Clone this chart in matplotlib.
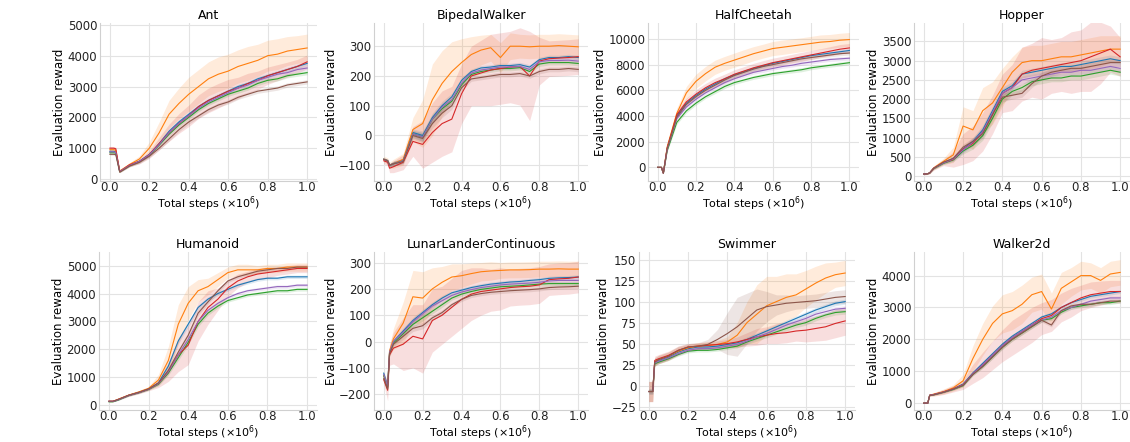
import matplotlib
matplotlib.use('Agg')
import matplotlib.pyplot as plt
from matplotlib.ticker import MultipleLocator, FormatStrFormatter
import numpy as np

# shared x grid (millions of steps)
steps = [0.0, 0.02, 0.03, 0.05, 0.1, 0.15, 0.2, 0.25, 0.3, 0.35, 0.4, 0.45,
         0.5, 0.55, 0.6, 0.65, 0.7, 0.75, 0.8, 0.85, 0.9, 0.95, 1.0]

colors = {'blue': '#1f77b4', 'orange': '#ff7f0e', 'green': '#2ca02c',
          'red': '#d62728', 'purple': '#9467bd', 'brown': '#8c564b'}

# ---- Ant ----
ant_mean = {
    'blue':   [900, 900, 880, 250, 450, 580, 800, 1150, 1550, 1850, 2100, 2350, 2550, 2700, 2850, 3000, 3100, 3250, 3350, 3450, 3550, 3650, 3750],
    'orange': [950, 950, 930, 260, 470, 650, 1000, 1500, 2100, 2450, 2750, 3000, 3250, 3400, 3500, 3650, 3750, 3850, 4000, 4050, 4150, 4200, 4250],
    'green':  [850, 850, 840, 230, 430, 560, 770, 1100, 1450, 1750, 2000, 2250, 2450, 2600, 2750, 2850, 2950, 3100, 3200, 3250, 3350, 3400, 3450],
    'red':    [1000, 1000, 980, 240, 460, 570, 790, 1150, 1500, 1800, 2050, 2350, 2550, 2700, 2850, 2950, 3100, 3200, 3350, 3450, 3550, 3650, 3800],
    'purple': [880, 880, 860, 240, 440, 570, 780, 1120, 1500, 1800, 2050, 2300, 2500, 2650, 2800, 2950, 3050, 3200, 3300, 3400, 3450, 3550, 3600],
    'brown':  [800, 800, 790, 220, 420, 540, 740, 1000, 1300, 1600, 1850, 2050, 2250, 2400, 2500, 2650, 2750, 2850, 2900, 2950, 3050, 3100, 3150],
}
ant_band = {
    'orange': [50, 50, 50, 30, 60, 100, 200, 350, 450, 500, 550, 550, 550, 560, 550, 540, 550, 520, 500, 500, 470, 450, 450],
    'red':    [50, 50, 50, 30, 60, 80, 120, 200, 280, 320, 350, 380, 400, 400, 380, 350, 330, 300, 280, 260, 240, 230, 220],
    'rest':   [30, 30, 30, 20, 30, 40, 50, 60, 70, 70, 70, 70, 70, 70, 70, 70, 70, 70, 70, 70, 70, 70, 70],
}

# ---- BipedalWalker ----
biped_mean = {
    'blue':   [-80, -85, -100, -95, -85, 10, 0, 60, 100, 130, 185, 215, 227, 230, 235, 235, 238, 230, 255, 262, 262, 265, 262],
    'orange': [-80, -85, -100, -95, -80, 20, 40, 120, 175, 215, 245, 272, 287, 295, 262, 300, 300, 298, 300, 300, 302, 300, 298],
    'green':  [-80, -85, -100, -95, -85, 5, -5, 55, 90, 115, 170, 205, 215, 220, 225, 225, 228, 215, 240, 245, 245, 245, 242],
    'red':    [-85, -90, -110, -105, -90, -20, -30, 10, 40, 55, 140, 200, 210, 220, 225, 230, 232, 200, 250, 258, 260, 262, 265],
    'purple': [-80, -85, -100, -95, -85, 5, -5, 55, 95, 120, 175, 210, 220, 225, 230, 230, 232, 222, 248, 252, 252, 253, 250],
    'brown':  [-80, -85, -100, -95, -88, 0, -10, 40, 75, 100, 160, 190, 195, 200, 205, 205, 208, 200, 215, 222, 222, 225, 222],
}
biped_band = {
    'orange': [10, 10, 10, 15, 20, 40, 80, 120, 110, 100, 80, 60, 50, 45, 50, 45, 40, 40, 40, 40, 40, 40, 40],
    'red':    [10, 10, 15, 20, 25, 50, 80, 100, 110, 110, 100, 100, 110, 120, 120, 120, 130, 150, 80, 60, 60, 60, 60],
    'rest':   [5, 5, 5, 8, 8, 12, 15, 15, 15, 12, 10, 8, 8, 8, 8, 8, 8, 8, 8, 8, 8, 8, 8],
}

# ---- HalfCheetah ----
cheetah_mean = {
    'blue':   [0, 0, -450, 1500, 4000, 5000, 5600, 6100, 6500, 6900, 7200, 7450, 7700, 7900, 8100, 8250, 8400, 8550, 8700, 8800, 8900, 9000, 9100],
    'orange': [0, 0, -450, 1600, 4200, 5800, 6700, 7300, 7800, 8100, 8350, 8600, 8850, 9050, 9250, 9350, 9450, 9550, 9650, 9750, 9800, 9900, 9950],
    'green':  [0, 0, -450, 1300, 3500, 4400, 5000, 5500, 5900, 6300, 6600, 6800, 7000, 7150, 7300, 7400, 7500, 7600, 7750, 7850, 7950, 8050, 8150],
    'red':    [0, 0, -450, 1500, 4100, 5100, 5700, 6200, 6600, 6900, 7250, 7500, 7750, 7950, 8150, 8300, 8450, 8600, 8750, 8900, 9050, 9200, 9300],
    'purple': [0, 0, -450, 1400, 3800, 4700, 5300, 5800, 6200, 6600, 6900, 7150, 7400, 7550, 7700, 7850, 7950, 8100, 8200, 8300, 8400, 8450, 8500],
    'brown':  [0, 0, -450, 1450, 3900, 4900, 5500, 6000, 6400, 6800, 7150, 7400, 7650, 7850, 8000, 8150, 8300, 8450, 8550, 8650, 8750, 8850, 8900],
}
cheetah_band = {
    'orange': [20, 20, 50, 200, 400, 500, 550, 560, 550, 540, 550, 560, 550, 540, 550, 560, 550, 540, 550, 560, 550, 540, 550],
    'red':    [20, 20, 50, 200, 300, 300, 350, 340, 350, 360, 350, 340, 350, 360, 350, 340, 350, 360, 350, 340, 350, 360, 350],
    'rest':   [10, 10, 30, 100, 150, 150, 150, 140, 150, 160, 150, 140, 150, 160, 150, 140, 150, 160, 150, 140, 150, 160, 150],
}

# ---- Hopper ----
hopper_mean = {
    'blue':   [50, 60, 80, 200, 350, 450, 700, 900, 1200, 1700, 2200, 2350, 2650, 2700, 2750, 2800, 2850, 2850, 2900, 2950, 3000, 3050, 3000],
    'orange': [50, 60, 80, 210, 380, 550, 1300, 1200, 1700, 1900, 2300, 2700, 2950, 3000, 3000, 3050, 3100, 3100, 3150, 3200, 3250, 3300, 3300],
    'green':  [50, 60, 80, 190, 330, 420, 650, 800, 1050, 1500, 2000, 2200, 2300, 2450, 2500, 2550, 2550, 2600, 2600, 2650, 2700, 2750, 2700],
    'red':    [50, 60, 80, 200, 350, 430, 700, 850, 1150, 1600, 2150, 2300, 2650, 2750, 2800, 2850, 2900, 2950, 3000, 3100, 3200, 3300, 3100],
    'purple': [50, 60, 80, 200, 340, 440, 680, 880, 1150, 1650, 2150, 2300, 2500, 2550, 2600, 2650, 2700, 2700, 2750, 2750, 2800, 2850, 2800],
    'brown':  [50, 60, 80, 200, 360, 460, 750, 900, 1100, 1600, 2050, 2100, 2150, 2400, 2600, 2700, 2750, 2800, 2800, 2850, 2900, 2950, 2950],
}
hopper_band = {
    'orange': [20, 20, 20, 50, 80, 200, 500, 500, 600, 550, 500, 400, 400, 400, 400, 400, 400, 400, 400, 400, 400, 350, 350],
    'red':    [20, 20, 20, 50, 80, 200, 400, 450, 500, 500, 500, 600, 700, 700, 800, 700, 700, 800, 800, 900, 800, 600, 500],
    'rest':   [10, 10, 10, 20, 30, 50, 80, 100, 120, 120, 120, 100, 100, 100, 100, 100, 100, 100, 100, 100, 100, 100, 100],
}

# ---- Humanoid ----
humanoid_mean = {
    'blue':   [130, 130, 150, 200, 350, 450, 580, 800, 1400, 2300, 2900, 3500, 3800, 4000, 4150, 4300, 4400, 4500, 4550, 4550, 4600, 4600, 4600],
    'orange': [130, 130, 160, 220, 360, 470, 600, 900, 1600, 2900, 3650, 4100, 4250, 4500, 4750, 4850, 4850, 4850, 4900, 4900, 4950, 4950, 4950],
    'green':  [120, 120, 140, 190, 340, 440, 560, 750, 1150, 1700, 2250, 2900, 3300, 3550, 3750, 3850, 3950, 4000, 4050, 4100, 4100, 4150, 4150],
    'red':    [140, 140, 160, 210, 350, 450, 570, 780, 1200, 1800, 2150, 3000, 3500, 3800, 4200, 4450, 4600, 4700, 4750, 4800, 4850, 4900, 4900],
    'purple': [130, 130, 150, 200, 345, 445, 570, 770, 1200, 1800, 2350, 3000, 3400, 3650, 3850, 4000, 4100, 4150, 4200, 4250, 4250, 4300, 4300],
    'brown':  [140, 140, 160, 210, 355, 455, 580, 790, 1250, 1900, 2500, 3300, 3700, 4100, 4450, 4600, 4700, 4800, 4850, 4900, 4900, 4950, 4950],
}
humanoid_band = {
    'orange': [20, 20, 20, 30, 40, 50, 60, 200, 500, 700, 600, 400, 300, 250, 200, 200, 200, 150, 150, 150, 150, 150, 150],
    'red':    [20, 20, 20, 30, 40, 50, 60, 150, 350, 600, 700, 700, 600, 400, 300, 250, 200, 200, 200, 150, 150, 150, 150],
    'rest':   [10, 10, 10, 15, 20, 25, 30, 50, 80, 100, 100, 90, 80, 70, 60, 60, 60, 60, 60, 60, 60, 60, 60],
}

# ---- LunarLanderContinuous ----
lunar_mean = {
    'blue':   [-120, -170, -40, 0, 40, 80, 110, 140, 165, 185, 195, 205, 212, 218, 222, 226, 228, 232, 235, 240, 242, 243, 245],
    'orange': [-130, -170, -35, 10, 70, 170, 165, 200, 225, 245, 250, 258, 265, 268, 270, 272, 272, 273, 275, 275, 276, 275, 275],
    'green':  [-130, -175, -45, -5, 30, 65, 90, 115, 140, 165, 180, 190, 198, 203, 208, 210, 212, 215, 218, 220, 220, 220, 220],
    'red':    [-145, -185, -50, -25, -10, 20, 10, 80, 100, 130, 160, 180, 190, 195, 200, 205, 208, 210, 215, 235, 238, 240, 245],
    'purple': [-125, -170, -40, 0, 35, 75, 105, 135, 155, 175, 188, 197, 205, 210, 215, 218, 220, 222, 225, 230, 232, 232, 232],
    'brown':  [-140, -180, -45, -10, 20, 50, 60, 90, 110, 140, 160, 175, 182, 187, 190, 193, 195, 197, 200, 205, 207, 208, 210],
}
lunar_band = {
    'orange': [15, 20, 20, 40, 80, 100, 100, 80, 60, 50, 45, 40, 35, 35, 30, 30, 30, 30, 30, 30, 30, 30, 30],
    'red':    [15, 40, 40, 60, 100, 120, 130, 120, 110, 110, 110, 100, 90, 80, 80, 70, 70, 70, 70, 60, 60, 60, 60],
    'rest':   [5, 10, 10, 10, 12, 12, 12, 10, 10, 8, 8, 8, 8, 8, 8, 8, 8, 8, 8, 8, 8, 8, 8],
}

# ---- Swimmer ----
swimmer_mean = {
    'blue':   [-7, -7, 28, 30, 34, 40, 44, 46, 46, 47, 49, 51, 55, 60, 65, 70, 75, 80, 85, 90, 94, 98, 100],
    'orange': [-7, -7, 28, 31, 35, 41, 45, 47, 48, 49, 52, 60, 75, 85, 95, 100, 105, 108, 115, 122, 128, 132, 134],
    'green':  [-7, -7, 26, 28, 32, 37, 41, 42, 42, 43, 45, 47, 52, 56, 60, 64, 68, 72, 75, 80, 84, 87, 88],
    'red':    [-7, -7, 30, 32, 36, 42, 46, 47, 48, 49, 50, 52, 55, 58, 60, 62, 63, 65, 66, 68, 70, 74, 77],
    'purple': [-7, -7, 27, 29, 33, 38, 42, 44, 44, 45, 47, 49, 53, 58, 62, 67, 72, 76, 80, 85, 88, 91, 92],
    'brown':  [-7, -7, 28, 31, 35, 42, 46, 47, 49, 55, 62, 70, 80, 90, 94, 96, 98, 99, 100, 101, 103, 105, 106],
}
swimmer_band = {
    'orange': [12, 12, 5, 5, 5, 5, 4, 4, 4, 5, 6, 15, 25, 35, 35, 30, 28, 25, 22, 20, 18, 15, 15],
    'red':    [12, 12, 5, 5, 5, 5, 4, 4, 4, 4, 5, 6, 8, 10, 10, 12, 12, 12, 14, 15, 16, 17, 17],
    'brown':  [12, 12, 5, 5, 5, 5, 4, 4, 6, 12, 25, 35, 30, 25, 18, 12, 10, 8, 8, 8, 8, 8, 8],
    'rest':   [3, 3, 2, 2, 2, 2, 2, 2, 2, 2, 2, 2, 3, 3, 3, 3, 3, 3, 3, 3, 3, 3, 3],
}

# ---- Walker2d ----
walker_mean = {
    'blue':   [0, 0, 250, 270, 350, 450, 600, 950, 1250, 1550, 1850, 2100, 2300, 2500, 2700, 2800, 3000, 3150, 3250, 3350, 3400, 3450, 3500],
    'orange': [0, 0, 250, 280, 360, 480, 700, 1400, 2000, 2500, 2800, 2900, 3100, 3400, 3500, 2950, 3600, 3800, 4000, 4000, 3850, 4050, 4100],
    'green':  [0, 0, 240, 260, 340, 430, 550, 900, 1150, 1450, 1750, 2000, 2200, 2400, 2600, 2650, 2850, 3000, 3050, 3100, 3150, 3150, 3200],
    'red':    [0, 0, 250, 270, 350, 450, 580, 920, 1200, 1500, 1800, 2050, 2250, 2450, 2650, 2750, 3000, 3150, 3300, 3400, 3450, 3500, 3500],
    'purple': [0, 0, 245, 265, 345, 440, 570, 920, 1200, 1500, 1800, 2050, 2250, 2450, 2600, 2700, 2900, 3000, 3100, 3200, 3250, 3300, 3300],
    'brown':  [0, 0, 240, 260, 340, 440, 560, 900, 1150, 1450, 1750, 2000, 2200, 2400, 2600, 2450, 2900, 3050, 3100, 3100, 3150, 3200, 3200],
}
walker_band = {
    'orange': [10, 10, 30, 50, 80, 100, 200, 400, 500, 550, 600, 600, 600, 550, 550, 500, 500, 450, 450, 400, 400, 400, 400],
    'red':    [10, 10, 30, 50, 80, 100, 150, 300, 400, 450, 500, 550, 550, 550, 500, 500, 450, 450, 400, 400, 380, 350, 350],
    'rest':   [5, 5, 10, 15, 20, 25, 30, 40, 50, 60, 60, 60, 60, 60, 60, 60, 60, 60, 60, 60, 60, 60, 60],
}

# title, means, bands, ylim, ytick step, axes box in pixels (left, top, right, bottom)
panels = [
    ('Ant', ant_mean, ant_band, (-65, 5060), 1000, (100, 23, 317, 181)),
    ('BipedalWalker', biped_mean, biped_band, (-153, 378), 100, (374, 23, 588, 181)),
    ('HalfCheetah', cheetah_mean, cheetah_band, (-1060, 11240), 2000, (648, 23, 859, 181)),
    ('Hopper', hopper_mean, hopper_band, (-130, 3980), 500, (914, 23, 1130, 181)),
    ('Humanoid', humanoid_mean, humanoid_band, (-176, 5490), 1000, (99, 252, 317, 410)),
    ('LunarLanderContinuous', lunar_mean, lunar_band, (-260, 340), 100, (374, 252, 588, 410)),
    ('Swimmer', swimmer_mean, swimmer_band, (-29, 159), 25, (639, 252, 855, 410)),
    ('Walker2d', walker_mean, walker_band, (-215, 4740), 1000, (914, 252, 1130, 410)),
]

W, H = 1130, 442
fig = plt.figure(figsize=(W / 100, H / 100), dpi=100)

x = np.array(steps)
for title, means, bands, ylim, ystep, (l, t, r, b) in panels:
    ax = fig.add_axes([l / W, 1 - b / H, (r - l) / W, (b - t) / H])
    for name, vals in means.items():
        m = np.array(vals)
        hw = np.array(bands.get(name, bands['rest']))
        ax.fill_between(x, m - hw, m + hw, color=colors[name], alpha=0.15, lw=0)
    for name, vals in means.items():
        ax.plot(x, vals, color=colors[name], lw=0.8)
    ax.set_xlim(-0.05, 1.05)
    ax.set_ylim(*ylim)
    ax.xaxis.set_major_locator(MultipleLocator(0.2))
    ax.xaxis.set_major_formatter(FormatStrFormatter('%.1f'))
    ax.yaxis.set_major_locator(MultipleLocator(ystep))
    ax.grid(color='#e3e3e3', lw=0.8)
    ax.set_axisbelow(True)
    for s in ('top', 'right'):
        ax.spines[s].set_visible(False)
    for s in ('left', 'bottom'):
        ax.spines[s].set_color('#d0d0d0')
    ax.tick_params(length=0, labelsize=8.5, colors='#222222')
    ax.tick_params(axis='x', pad=0)
    ax.tick_params(axis='y', pad=2)
    ax.set_title(title, fontsize=9, pad=3)
    ax.set_xlabel(r'Total steps ($\times10^6$)', fontsize=8)
    # x label sits right under the tick labels
    ax.xaxis.set_label_coords(0.5, -13.5 / (b - t))
    ax.set_ylabel('Evaluation reward', fontsize=8.5, labelpad=1)

fig.savefig('out.png', dpi=100)
